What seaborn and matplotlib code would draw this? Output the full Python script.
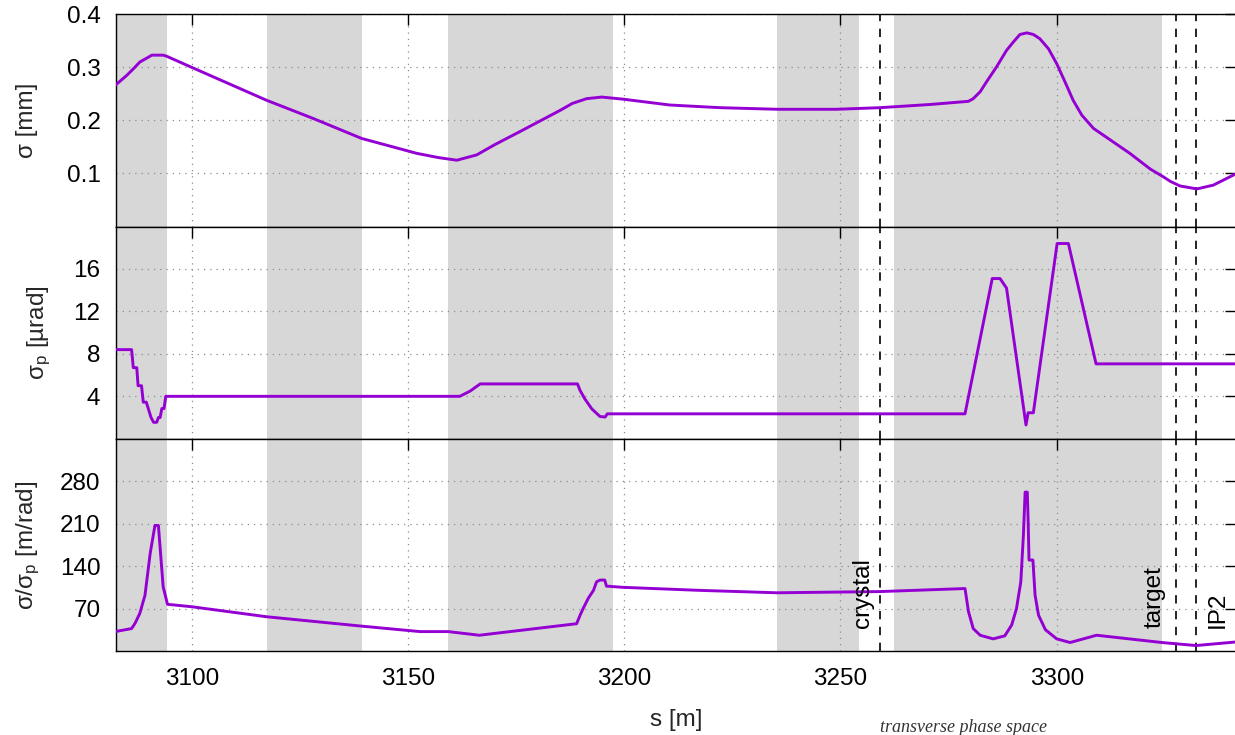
import numpy as np
import pandas as pd
import matplotlib
matplotlib.use("Agg")
import matplotlib.pyplot as plt
import seaborn as sns

# ---------------- data ----------------
s_sigma = [3082.3, 3085.0, 3086.6, 3088.0, 3090.8, 3093.4, 3094.2, 3100.0, 3117.3, 3128.3,
           3139.3, 3152.0, 3157.0, 3161.3, 3165.9, 3170.0, 3175.9, 3185.2, 3188.0, 3191.3,
           3194.8, 3199.8, 3210.6, 3222.2, 3235.4, 3249.1, 3259.1, 3270.7, 3279.6, 3280.7,
           3282.3, 3283.8, 3286.1, 3288.4, 3290.0, 3291.5, 3293.1, 3294.6, 3296.1, 3298.1,
           3300.0, 3301.9, 3303.8, 3305.8, 3308.5, 3316.9, 3321.7, 3324.6, 3326.3, 3328.5,
           3332.4, 3336.2, 3341.6]
sigma_mm = [0.266, 0.285, 0.298, 0.310, 0.323, 0.323, 0.321, 0.300, 0.238, 0.203,
            0.166, 0.138, 0.130, 0.125, 0.135, 0.154, 0.179, 0.219, 0.232, 0.241,
            0.244, 0.240, 0.229, 0.224, 0.221, 0.221, 0.224, 0.230, 0.236, 0.241,
            0.254, 0.273, 0.301, 0.332, 0.348, 0.362, 0.365, 0.362, 0.354, 0.335,
            0.307, 0.273, 0.238, 0.210, 0.185, 0.138, 0.108, 0.094, 0.085, 0.0765,
            0.0709, 0.078, 0.100]

s_sigp = [3082.3, 3086.1, 3086.5, 3087.3, 3087.6, 3088.4, 3088.8, 3089.5, 3090.6, 3091.2,
          3091.9, 3092.3, 3092.7, 3093.1, 3093.6, 3094.0, 3162.0, 3164.4, 3166.7, 3189.2,
          3189.8, 3190.9, 3192.5, 3194.4, 3195.6, 3196.1, 3278.8, 3285.1, 3286.9, 3288.4,
          3292.9, 3293.4, 3294.6, 3300.1, 3302.7, 3309.1, 3341.6]
sigp_urad = [8.4, 8.4, 6.7, 6.7, 5.0, 5.0, 3.45, 3.45, 2.0, 1.55,
             1.55, 2.0, 2.0, 2.85, 2.85, 4.0, 4.0, 4.5, 5.17, 5.17,
             4.55, 3.76, 2.82, 2.1, 2.05, 2.35, 2.35, 15.1, 15.1, 14.2,
             1.3, 2.45, 2.45, 18.4, 18.4, 7.06, 7.06]

s_ratio = [3082.3, 3086.1, 3086.9, 3088.0, 3089.2, 3090.4, 3091.5, 3092.3, 3092.8, 3093.4,
           3094.4, 3100.0, 3117.3, 3139.3, 3152.8, 3159.3, 3166.5, 3189.0, 3189.8, 3190.5,
           3191.7, 3192.9, 3193.6, 3194.4, 3195.5, 3195.9, 3199.7, 3217.5, 3235.3, 3259.1,
           3278.8, 3279.6, 3280.7, 3282.3, 3285.3, 3288.0, 3289.6, 3290.7, 3291.7, 3292.3,
           3292.7, 3293.2, 3293.4, 3293.6, 3294.5, 3295.0, 3295.8, 3297.4, 3300.0, 3303.1,
           3309.2, 3324.3, 3332.2, 3341.6]
ratio_m_rad = [32, 37, 45.6, 62, 92, 161, 207, 207, 161, 106,
               77, 73, 56.5, 41, 32, 32, 26, 45, 59, 70,
               87, 100, 114, 117, 117, 107, 105, 100, 96, 98,
               103, 65, 37, 26, 20, 25, 43, 70, 114, 191,
               262, 262, 213, 150, 150, 92, 59, 35, 20, 14,
               26, 14, 9, 15]

band_start = [3080.0, 3117.3, 3159.3, 3235.4, 3262.4]
band_end = [3094.2, 3139.3, 3197.3, 3254.3, 3324.3]

marker_s = [3259.1, 3327.6, 3332.2]
marker_labels = ["crystal", "target", "IP2"]
marker_label_s = [3255.1, 3322.7, 3337.3]

x_ticks = [3100, 3150, 3200, 3250, 3300]
y_ticks_top = [0.1, 0.2, 0.3, 0.4]
y_ticks_mid = [4, 8, 12, 16]
y_ticks_bot = [70, 140, 210, 280]

# ---------------- style ----------------
sns.set_theme(style="white")
plt.rcParams["font.family"] = ["Liberation Sans", "DejaVu Sans"]
plt.rcParams["mathtext.fontset"] = "custom"
plt.rcParams["mathtext.rm"] = "Liberation Sans"
plt.rcParams["mathtext.it"] = "Liberation Sans:italic"
plt.rcParams["axes.edgecolor"] = "black"
plt.rcParams["axes.linewidth"] = 1.0

FS = 17.5
LINE_COLOR = "#9400d3"
BAND_COLOR = "#d7d7d7"

W, H = 1235, 735
fig = plt.figure(figsize=(W / 100, H / 100), dpi=100)

left_px, right_px = 115.7, 1236.5
top_px, bottom_px = 14.3, 651.0
panel_h = (bottom_px - top_px) / 3
xlim = (3100 + (left_px - 191.7) / 4.325, 3100 + (right_px - 191.7) / 4.325)

axes = []
for i in range(3):
    y_top = top_px + i * panel_h
    ax = fig.add_axes([left_px / W, 1 - (y_top + panel_h) / H,
                       (right_px - left_px) / W, panel_h / H])
    axes.append(ax)

panels = [
    (s_sigma, sigma_mm, (0, 0.4), y_ticks_top, ["0.1", "0.2", "0.3", "0.4"], "σ [mm]", -0.069),
    (s_sigp, sigp_urad, (0, 20), y_ticks_mid, ["4", "8", "12", "16"], r"σ$_\mathregular{p}$ [µrad]", -0.056),
    (s_ratio, ratio_m_rad, (0, 350), y_ticks_bot, ["70", "140", "210", "280"],
     r"σ/σ$_\mathregular{p}$ [m/rad]", -0.0655),
]

for ax, (xs, ys, ylim, yt, ytl, ylab, labx) in zip(axes, panels):
    ax.set_axisbelow(True)
    for a, b in zip(band_start, band_end):
        ax.axvspan(a, b, color=BAND_COLOR, lw=0, zorder=0.1)
    for m in marker_s:
        ax.axvline(m, color="black", lw=1.2, ls=(0, (5, 4.5)), zorder=2)
    df = pd.DataFrame({"s": xs, "v": ys})
    sns.lineplot(data=df, x="s", y="v", ax=ax, color=LINE_COLOR, lw=2.1,
                 sort=False, estimator=None, zorder=3)
    ax.set_xlim(*xlim)
    ax.set_ylim(*ylim)
    ax.set_xticks(x_ticks)
    ax.set_yticks(yt)
    ax.set_yticklabels(ytl)
    ax.grid(True, color="#8c8c8c", lw=0.9, ls=(0, (1, 4)))
    ax.tick_params(axis="both", which="major", direction="in", length=8, width=1.0,
                   top=True, right=True, colors="black", labelsize=FS)
    ax.tick_params(axis="y", pad=11)
    ax.tick_params(axis="x", pad=12.5)
    ax.set_ylabel(ylab, fontsize=FS)
    ax.yaxis.set_label_coords(labx, 0.5)
    for sp in ax.spines.values():
        sp.set_color("black")
        sp.set_linewidth(1.0)
    ax.set_xlabel("")

for ax in axes[:2]:
    ax.tick_params(axis="x", labelbottom=False)

axes[2].set_xlabel("s [m]", fontsize=FS)
axes[2].xaxis.set_label_coords(0.5, -0.275)

for lab, xs_ in zip(marker_labels, marker_label_s):
    axes[2].text(xs_, 38, lab, rotation=90, ha="center", va="bottom",
                 fontsize=FS, color="black", zorder=4)

fig.text(880 / W, 1 - 731.5 / H, "transverse phase space", fontsize=13,
         family=["Liberation Serif", "DejaVu Serif"], style="italic",
         color="#333333", ha="left", va="baseline")

fig.savefig("out.png", dpi=100)
